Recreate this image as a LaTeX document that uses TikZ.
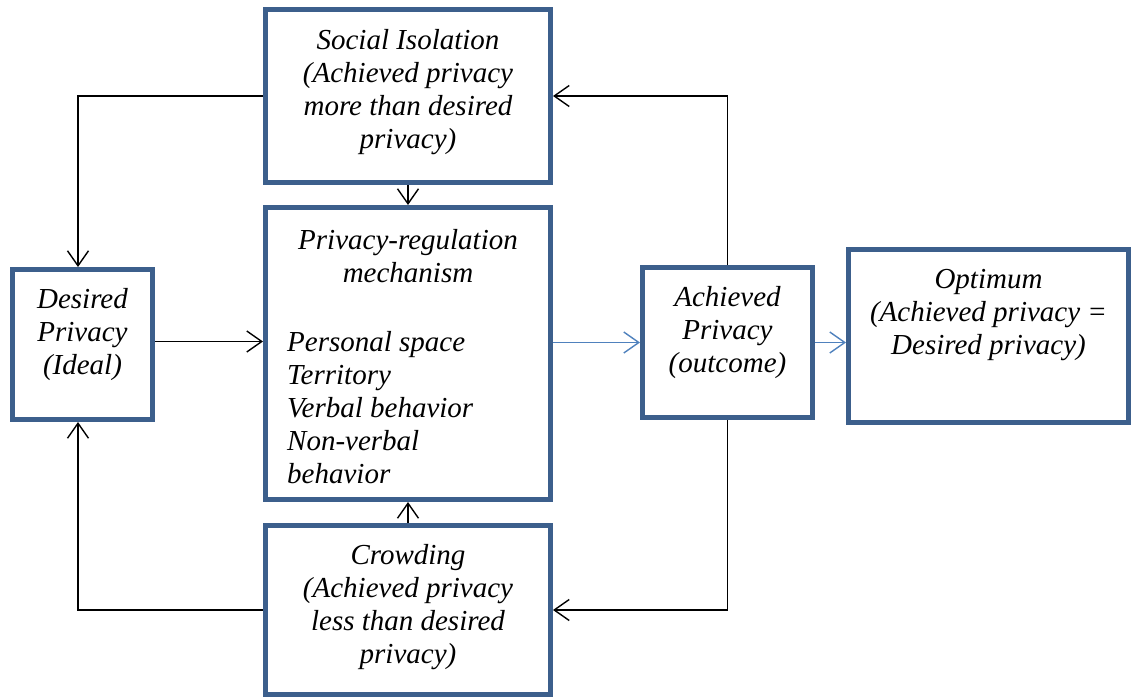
\documentclass[tikz,border=0pt]{standalone}
\usepackage{fontspec}
\setmainfont{Liberation Serif}
\usetikzlibrary{arrows.meta}
\definecolor{boxblue}{HTML}{3C5F8C}
\definecolor{flowblue}{HTML}{4F81BD}
\begin{document}
\begin{tikzpicture}[x=1pt,y=-1pt,
  box/.style={draw=boxblue, line width=5pt, fill=white, inner sep=0pt},
  lbl/.style={font=\fontsize{29}{33}\selectfont\itshape, align=center, inner sep=0pt},
  barb/.style={-{Straight Barb[length=15pt,width=21pt,line width=1.4pt]}},
  link/.style={draw=black, line width=1.4pt, barb},
  flow/.style={draw=flowblue, line width=1.4pt, barb}]
\useasboundingbox (0,0) rectangle (1133,699);

% boxes
\node[box, minimum width=285pt, minimum height=173pt] (si) at (408,96) {};
\node[box, minimum width=285pt, minimum height=292pt] (mech) at (408,353.5) {};
\node[box, minimum width=285pt, minimum height=169pt] (cr) at (408,610) {};
\node[box, minimum width=140pt, minimum height=150pt] (dp) at (82.5,344.5) {};
\node[box, minimum width=170pt, minimum height=150pt] (ap) at (727.5,342.5) {};
\node[box, minimum width=280pt, minimum height=173pt] (op) at (988.5,336) {};

% box texts
\node[lbl] (si-t) at (408,92) {Social Isolation\\(Achieved privacy\\more than desired\\privacy)};
\node[lbl] (mech-h) at (408,256) {Privacy-regulation\\mechanism};
\node[lbl, align=left, anchor=west] (mech-l) at (287,408) {Personal space\\Territory\\Verbal behavior\\Non-verbal\\behavior};
\node[lbl] (cr-t) at (408,607) {Crowding\\(Achieved privacy\\less than desired\\privacy)};
\node[lbl] (dp-t) at (82.5,335) {Desired\\Privacy\\(Ideal)};
\node[lbl] (ap-t) at (727.5,333) {Achieved\\Privacy\\(outcome)};
\node[lbl] (op-t) at (988.5,315) {Optimum\\(Achieved privacy =\\Desired privacy)};

% connectors
\draw[link] (si.west) -| ([xshift=-4.5pt]dp.north);
\draw[link] (cr.west) -| ([xshift=-4.5pt]dp.south);
\draw[link] ([yshift=3pt]dp.east) -- ([yshift=3pt]dp.east -| mech.west);
\draw[link] (si.south) -- (mech.north);
\draw[link] (cr.north) -- (mech.south);
\draw[flow] (mech.east |- ap.west) -- (ap.west);
\draw[flow] (ap.east) -- (ap.east -| op.west);
\draw[link] (ap.north) |- (si.east);
\draw[link] (ap.south) |- (cr.east);
\end{tikzpicture}
\end{document}
